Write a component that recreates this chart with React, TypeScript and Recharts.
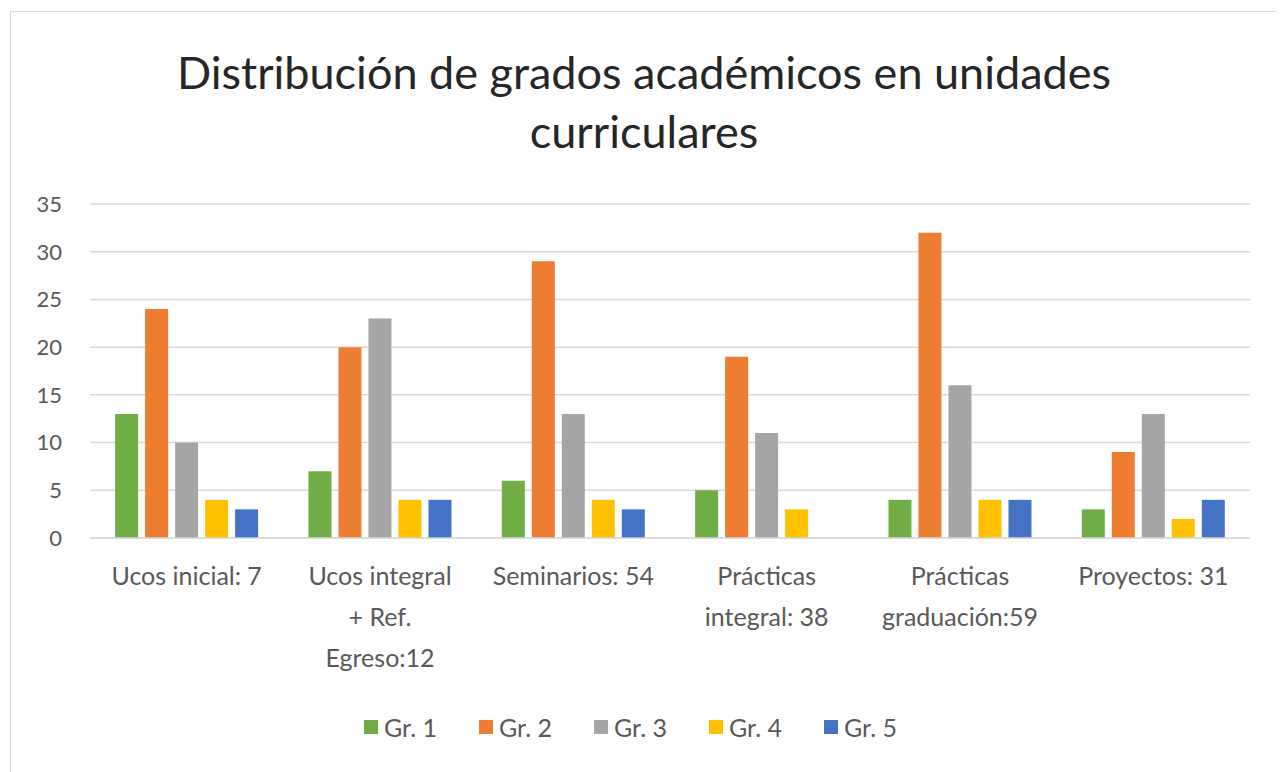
import React from "react";
import { BarChart, Bar, XAxis, YAxis, CartesianGrid, Legend } from "recharts";

const categories = [
  "Ucos inicial: 7",
  "Ucos integral\n+ Ref.\nEgreso:12",
  "Seminarios: 54",
  "Prácticas\nintegral: 38",
  "Prácticas\ngraduación:59",
  "Proyectos: 31",
];
const gr1 = [13, 7, 6, 5, 4, 3];
const gr2 = [24, 20, 29, 19, 32, 9];
const gr3 = [10, 23, 13, 11, 16, 13];
const gr4 = [4, 4, 4, 3, 4, 2];
const gr5 = [3, 4, 3, 0, 4, 4];
const yTicks = [0, 5, 10, 15, 20, 25, 30, 35];
const seriesNames = ["Gr. 1", "Gr. 2", "Gr. 3", "Gr. 4", "Gr. 5"];
const seriesColors = ["#70ad47", "#ed7d31", "#a5a5a5", "#ffc000", "#4472c4"];
const title = ["Distribución de grados académicos en unidades", "curriculares"];

const data = categories.map((c, i) => ({
  name: c,
  g1: gr1[i],
  g2: gr2[i],
  g3: gr3[i],
  g4: gr4[i],
  g5: gr5[i],
}));
const keys = ["g1", "g2", "g3", "g4", "g5"];

const FONT = "Lato, 'Open Sans', sans-serif";
const TXT = "#595959";

const XTick = (props: any) => {
  const { x, y, payload } = props;
  const lines = String(payload.value).split("\n");
  return (
    <g transform={`translate(${x},${y})`}>
      {lines.map((l: string, i: number) => (
        <text
          key={i}
          x={0}
          y={i * 41}
          dy={39}
          textAnchor="middle"
          fill={TXT}
          fontSize={25}
          fontFamily={FONT}
        >
          {l}
        </text>
      ))}
    </g>
  );
};

const LegendContent = () => (
  <div
    style={{
      display: "flex",
      justifyContent: "center",
      alignItems: "center",
      fontFamily: FONT,
      fontSize: 25,
      color: TXT,
    }}
  >
    {seriesNames.map((n, i) => (
      <div key={n} style={{ display: "flex", alignItems: "center", marginRight: i < 4 ? 42 : 0 }}>
        <div style={{ width: 14, height: 14, background: seriesColors[i], marginRight: 6 }} />
        <span>{n}</span>
      </div>
    ))}
  </div>
);

export default function App() {
  return (
    <div
      style={{
        position: "relative",
        marginTop: 3,
        marginLeft: 2,
        width: 1266,
        height: 790,
        border: "1px solid #d9d9d9",
        background: "#fff",
      }}
    >
      <div
        style={{
          position: "absolute",
          top: 31,
          left: 0,
          width: "100%",
          textAlign: "center",
          fontFamily: FONT,
          fontSize: 45,
          lineHeight: "59px",
          color: "#262626",
        }}
      >
        {title.map((t) => (
          <div key={t}>{t}</div>
        ))}
      </div>
      <BarChart
        width={1266}
        height={772}
        data={data}
        margin={{ top: 192, right: 27, left: 0, bottom: 0 }}
        barCategoryGap="13%"
        barGap={7}
      >
        <CartesianGrid vertical={false} stroke="#d9d9d9" strokeWidth={1.5} />
        <XAxis
          dataKey="name"
          tick={<XTick />}
          tickLine={false}
          axisLine={{ stroke: "#d9d9d9", strokeWidth: 1.5 }}
          interval={0}
          height={174}
        />
        <YAxis
          ticks={yTicks}
          domain={[0, 35]}
          width={79}
          axisLine={false}
          tickLine={false}
          tickSize={0}
          tickMargin={28}
          tick={{ fill: TXT, fontSize: 22, fontFamily: FONT }}
        />
        <Legend verticalAlign="bottom" height={72} content={<LegendContent />} />
        {keys.map((k, i) => (
          <Bar key={k} dataKey={k} name={seriesNames[i]} fill={seriesColors[i]} isAnimationActive={false} />
        ))}
      </BarChart>
    </div>
  );
}
